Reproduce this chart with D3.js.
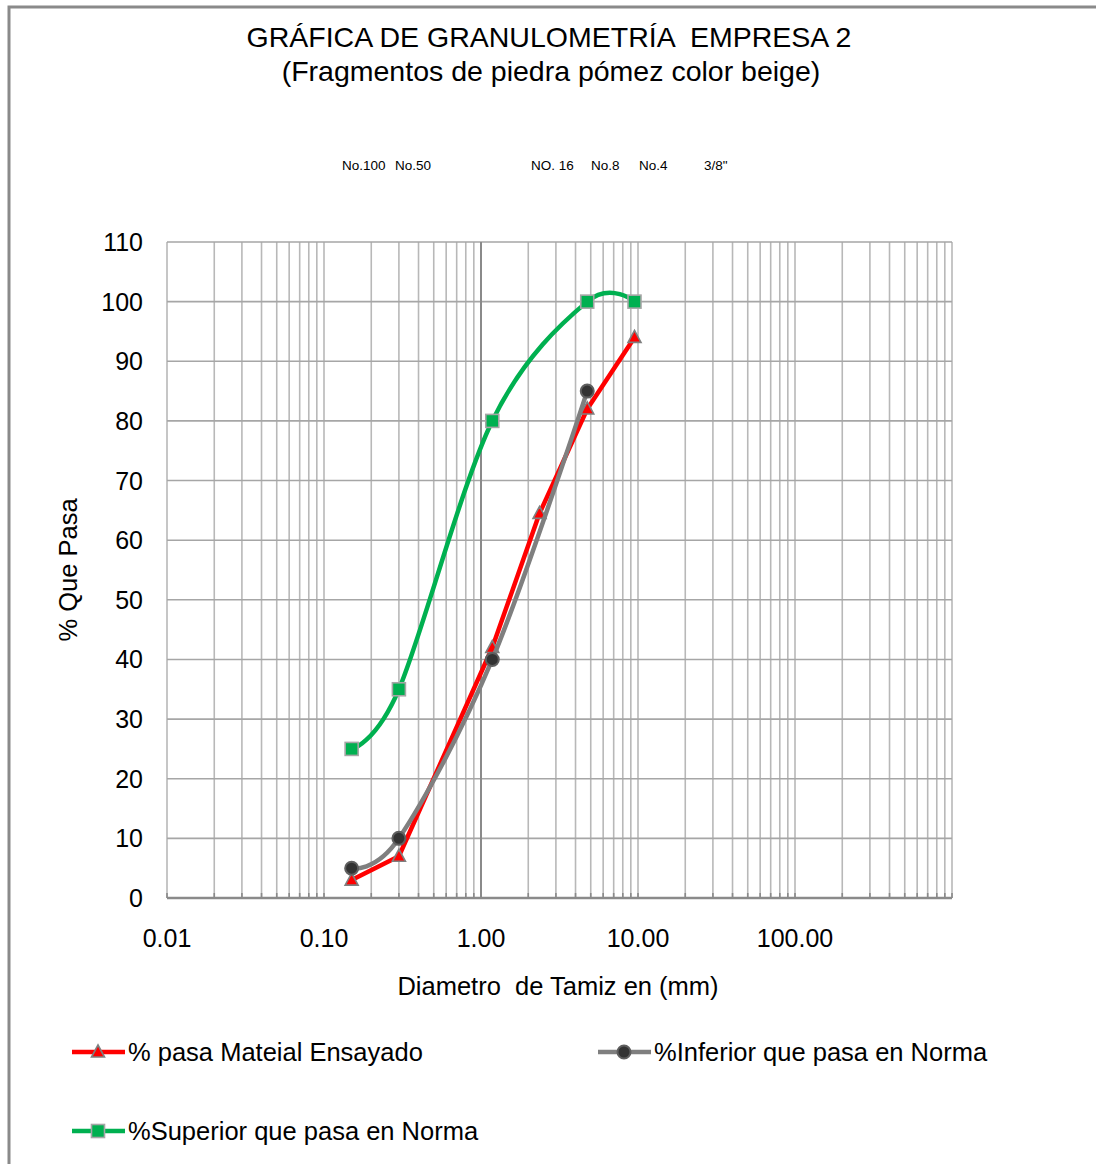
<!DOCTYPE html>
<html>
<head>
<meta charset="utf-8">
<script src="https://cdn.jsdelivr.net/npm/d3@7"></script>
<style>
  body { margin: 0; background: #fff; }
  svg { display: block; font-family: "Liberation Sans", Arial, sans-serif; }
</style>
</head>
<body>
<svg id="chart"></svg>
<script>
// sieve openings (mm)
const sieves = [0.15, 0.3, 1.18, 2.36, 4.75, 9.5];
const sieveNames = ["No.100", "No.50", "NO. 16", "No.8", "No.4", "3/8\""];

const pasaEnsayado = [3, 7, 42, 64.5, 82, 94];
const inferiorSieves = [0.15, 0.3, 1.18, 4.75];
const inferiorNorma = [5, 10, 40, 85];
const superiorSieves = [0.15, 0.3, 1.18, 4.75, 9.5];
const superiorNorma = [25, 35, 80, 100, 100];

const xTicks = [0.01, 0.1, 1, 10, 100];
const yTicks = [0, 10, 20, 30, 40, 50, 60, 70, 80, 90, 100, 110];

const series = [
  {name: "% pasa Mateial Ensayado", x: sieves, y: pasaEnsayado, color: "#ff0000", marker: "triangle", smooth: false},
  {name: "%Inferior que pasa en Norma", x: inferiorSieves, y: inferiorNorma, color: "#7f7f7f", marker: "circle", smooth: true},
  {name: "%Superior que pasa en Norma", x: superiorSieves, y: superiorNorma, color: "#00b050", marker: "square", smooth: true}
];

const width = 1096, height = 1164;
const plotLeft = 167, plotRight = 952, plotTop = 242, plotBottom = 898;

const svg = d3.select("#chart").attr("width", width).attr("height", height);

svg.append("rect")
    .attr("x", 9).attr("y", 7)
    .attr("width", 1200).attr("height", 1200)
    .attr("fill", "#fff")
    .attr("stroke", "#8a8a8a")
    .attr("stroke-width", 3);

let xScale = d3.scaleLog().domain([0.01, 1000]).range([plotLeft, plotRight]);
let yScale = d3.scaleLinear().domain([0, 110]).range([plotBottom, plotTop]);

// vertical gridlines (1..9 per decade)
let gridX = [];
for (let e = -2; e <= 2; e++) {
  for (let k = 1; k <= 9; k++) gridX.push(k * Math.pow(10, e));
}
gridX.push(1000);

svg.append("g")
  .selectAll("line")
  .data(gridX)
  .enter()
  .append("line")
    .attr("x1", d => xScale(d)).attr("x2", d => xScale(d))
    .attr("y1", plotTop).attr("y2", plotBottom)
    .attr("stroke", "#b8b8b8")
    .attr("stroke-width", 1.6);

// minor tick marks on the x axis
svg.append("g")
  .selectAll("line")
  .data(gridX)
  .enter()
  .append("line")
    .attr("x1", d => xScale(d)).attr("x2", d => xScale(d))
    .attr("y1", plotBottom - 5).attr("y2", plotBottom)
    .attr("stroke", "#8a8a8a")
    .attr("stroke-width", 1.6);

// horizontal gridlines
svg.append("g")
  .selectAll("line")
  .data(yTicks.slice(1))
  .enter()
  .append("line")
    .attr("x1", plotLeft).attr("x2", plotRight)
    .attr("y1", d => yScale(d)).attr("y2", d => yScale(d))
    .attr("stroke", "#a6a6a6")
    .attr("stroke-width", 1.6);

// value axis crosses at 1
svg.append("line")
    .attr("x1", xScale(1)).attr("x2", xScale(1))
    .attr("y1", plotTop).attr("y2", plotBottom)
    .attr("stroke", "#8a8a8a")
    .attr("stroke-width", 2);

// x axis line
svg.append("line")
    .attr("x1", plotLeft).attr("x2", plotRight)
    .attr("y1", plotBottom).attr("y2", plotBottom)
    .attr("stroke", "#8a8a8a")
    .attr("stroke-width", 2.5);

// axis labels
svg.append("g")
  .selectAll("text")
  .data(xTicks)
  .enter()
  .append("text")
    .attr("x", d => xScale(d))
    .attr("y", plotBottom + 49)
    .attr("text-anchor", "middle")
    .style("font-size", "25px")
    .text(d => d3.format(".2f")(d));

svg.append("g")
  .selectAll("text")
  .data(yTicks)
  .enter()
  .append("text")
    .attr("x", plotLeft - 24)
    .attr("y", d => yScale(d))
    .attr("dy", "0.36em")
    .attr("text-anchor", "end")
    .style("font-size", "25px")
    .text(d => d);

// series lines
const lineLinear = d3.line().x(d => xScale(d[0])).y(d => yScale(d[1]));
const lineSmooth = d3.line().x(d => xScale(d[0])).y(d => yScale(d[1])).curve(d3.curveCardinal.tension(0));

function drawMarker(g, type, color, cx, cy) {
  if (type === "triangle") {
    g.append("path")
        .attr("d", `M${cx},${cy - 7}L${cx + 6.5},${cy + 5}L${cx - 6.5},${cy + 5}Z`)
        .attr("fill", color).attr("stroke", "#7f7f7f").attr("stroke-width", 1.6);
  } else if (type === "circle") {
    g.append("circle")
        .attr("cx", cx).attr("cy", cy).attr("r", 6.5)
        .attr("fill", "#333").attr("stroke", "#5f5f5f").attr("stroke-width", 2);
  } else {
    g.append("rect")
        .attr("x", cx - 6.5).attr("y", cy - 6.5).attr("width", 13).attr("height", 13)
        .attr("fill", color).attr("stroke", "#a6a6a6").attr("stroke-width", 1.6);
  }
}

series.forEach(s => {
  const pts = s.x.map((x, i) => [x, s.y[i]]);
  const g = svg.append("g");
  g.append("path")
      .attr("d", (s.smooth ? lineSmooth : lineLinear)(pts))
      .attr("fill", "none")
      .attr("stroke", s.color)
      .attr("stroke-width", 4.5)
      .attr("stroke-linejoin", "round");
  pts.forEach(p => drawMarker(g, s.marker, s.color, xScale(p[0]), yScale(p[1])));
});

// titles
svg.append("text")
    .attr("x", 549).attr("y", 47)
    .attr("text-anchor", "middle")
    .attr("xml:space", "preserve")
    .style("font-size", "28.5px")
    .text("GRÁFICA DE GRANULOMETRÍA  EMPRESA 2");

svg.append("text")
    .attr("x", 551).attr("y", 81)
    .attr("text-anchor", "middle")
    .style("font-size", "28.5px")
    .text("(Fragmentos de piedra pómez color beige)");

// sieve labels
const sieveLabelX = [342, 395, 531, 591, 639, 704];
svg.append("g")
  .selectAll("text")
  .data(sieveNames)
  .enter()
  .append("text")
    .attr("x", (d, i) => sieveLabelX[i])
    .attr("y", 170)
    .style("font-size", "13.5px")
    .text(d => d);

svg.append("text")
    .attr("x", 558).attr("y", 995)
    .attr("text-anchor", "middle")
    .attr("xml:space", "preserve")
    .style("font-size", "25.5px")
    .text("Diametro  de Tamiz en (mm)");

svg.append("text")
    .attr("transform", "rotate(-90)")
    .attr("x", -570).attr("y", 77)
    .attr("text-anchor", "middle")
    .style("font-size", "25.5px")
    .text("% Que Pasa");

// legend
const legendPos = [[72, 1052], [598, 1052], [72, 1131]];
series.forEach((s, i) => {
  const [lx, ly] = legendPos[i];
  const g = svg.append("g");
  g.append("line")
      .attr("x1", lx).attr("x2", lx + 53)
      .attr("y1", ly).attr("y2", ly)
      .attr("stroke", s.color).attr("stroke-width", 4.5);
  drawMarker(g, s.marker, s.color, lx + 26, ly);
  g.append("text")
      .attr("x", lx + 56).attr("y", ly)
      .attr("dy", "0.36em")
      .style("font-size", "25.5px")
      .text(s.name);
});
</script>
</body>
</html>
